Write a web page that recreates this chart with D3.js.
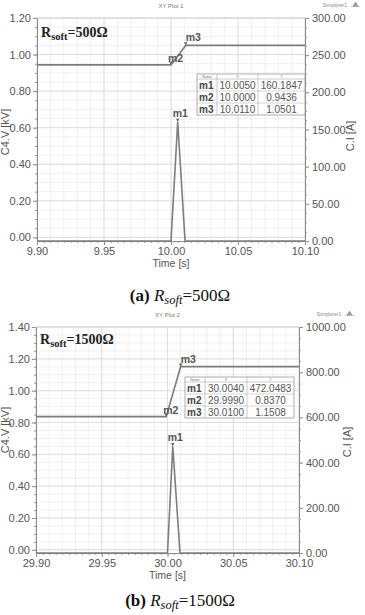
<!DOCTYPE html>
<html><head><meta charset="utf-8">
<script src="https://cdn.jsdelivr.net/npm/d3@7"></script>
<style>
html,body{margin:0;padding:0;background:#fff;}
svg{display:block;}
</style>
</head><body>
<svg id="c" width="365" height="615"></svg>
<script>
// ---------- data ----------
// Plot (a): R_soft = 500 Ω
const timeTicksA = [9.90, 9.95, 10.00, 10.05, 10.10];
const voltTicksA = [0.00, 0.20, 0.40, 0.60, 0.80, 1.00, 1.20];
const currTicksA = [0, 50, 100, 150, 200, 250, 300];
const voltTimeA = [9.90, 10.000, 10.011, 10.10];
const voltValA  = [0.9436, 0.9436, 1.0501, 1.0501];
const currTimeA = [9.90, 10.000, 10.005, 10.0105, 10.10];
const currValA  = [0, 0, 160.1847, 0, 0];
const markerNames = ["m1", "m2", "m3"];
const markerXA = ["10.0050", "10.0000", "10.0110"];
const markerYA = ["160.1847", "0.9436", "1.0501"];

// Plot (b): R_soft = 1500 Ω
const timeTicksB = [29.90, 29.95, 30.00, 30.05, 30.10];
const voltTicksB = [0.00, 0.20, 0.40, 0.60, 0.80, 1.00, 1.20, 1.40];
const currTicksB = [0, 200, 400, 600, 800, 1000];
const voltTimeB = [29.90, 29.999, 30.010, 30.10];
const voltValB  = [0.8370, 0.8370, 1.1508, 1.1508];
const currTimeB = [29.90, 30.000, 30.004, 30.0095, 30.10];
const currValB  = [0, 0, 472.0483, 0, 0];
const markerXB = ["30.0040", "29.9990", "30.0100"];
const markerYB = ["472.0483", "0.8370", "1.1508"];

// ---------- drawing ----------
const svg = d3.select("#c");
svg.append("rect").attr("width",365).attr("height",615).attr("fill","#fff");

function drawPlot(o){
  const g = svg.append("g");
  const x = d3.scaleLinear().domain([o.tTicks[0], o.tTicks[o.tTicks.length-1]]).range([o.left, o.right]);
  const yL = d3.scaleLinear().domain([-0.02, o.vTicks[o.vTicks.length-1]]).range([o.bottom, o.top]);
  const yR = d3.scaleLinear().domain([0, o.cTicks[o.cTicks.length-1]]).range([o.bottom, o.top]);

  // minor grid
  const xMinor = d3.range(0, 21).map(i => o.tTicks[0] + i*0.01);
  const yMinor = d3.range(0, Math.round(o.vTicks[o.vTicks.length-1]/0.05)+1).map(i => i*0.05);
  g.selectAll(".gx").data(xMinor).join("line")
    .attr("x1", d=>x(d)).attr("x2", d=>x(d)).attr("y1", o.top).attr("y2", o.bottom)
    .attr("stroke", "#ececec").attr("stroke-width", 0.8);
  g.selectAll(".gy").data(yMinor).join("line")
    .attr("y1", d=>yL(d)).attr("y2", d=>yL(d)).attr("x1", o.left).attr("x2", o.right)
    .attr("stroke", "#ececec").attr("stroke-width", 0.8);
  // major grid
  g.selectAll(".Gx").data(o.tTicks).join("line")
    .attr("x1", d=>x(d)).attr("x2", d=>x(d)).attr("y1", o.top).attr("y2", o.bottom)
    .attr("stroke", "#d9d9d9").attr("stroke-width", 0.8);
  g.selectAll(".Gy").data(o.vTicks).join("line")
    .attr("y1", d=>yL(d)).attr("y2", d=>yL(d)).attr("x1", o.left).attr("x2", o.right)
    .attr("stroke", "#d9d9d9").attr("stroke-width", 0.8);
  g.append("line").attr("x1",o.left).attr("x2",o.right).attr("y1",o.top).attr("y2",o.top)
    .attr("stroke","#cfcfcf").attr("stroke-width",0.8);

  // axes
  const font = "'Liberation Sans', Arial, sans-serif";
  const styleAxis = (sel) => {
    sel.select(".domain").attr("stroke", "#8a8a8a").attr("stroke-width", 1);
    sel.selectAll(".tick line").attr("stroke", "#8a8a8a");
    sel.selectAll(".tick text").attr("fill", "#555").style("font-family", font).style("font-size", "11px");
  };
  const ax = g.append("g").attr("transform", `translate(0,${o.bottom})`)
    .call(d3.axisBottom(x).tickValues(o.tTicks).tickFormat(d3.format(".2f")).tickSizeInner(4).tickSizeOuter(0).tickPadding(2));
  styleAxis(ax);
  const axm = g.append("g").attr("transform", `translate(0,${o.bottom})`)
    .call(d3.axisBottom(x).tickValues(d3.range(0,41).map(i=>o.tTicks[0]+i*0.005)).tickFormat("").tickSize(2).tickSizeOuter(0));
  axm.select(".domain").remove(); axm.selectAll("line").attr("stroke","#9a9a9a");

  const ayl = g.append("g").attr("transform", `translate(${o.left},0)`)
    .call(d3.axisLeft(yL).tickValues(o.vTicks).tickFormat(d3.format(".2f")).tickSizeInner(4).tickSizeOuter(0).tickPadding(2));
  styleAxis(ayl);
  const aylm = g.append("g").attr("transform", `translate(${o.left},0)`)
    .call(d3.axisLeft(yL).tickValues(yMinor).tickFormat("").tickSize(2).tickSizeOuter(0));
  aylm.select(".domain").remove(); aylm.selectAll("line").attr("stroke","#9a9a9a");

  const ayr = g.append("g").attr("transform", `translate(${o.right},0)`)
    .call(d3.axisRight(yR).tickValues(o.cTicks).tickFormat(d3.format(".2f")).tickSizeInner(4).tickSizeOuter(0).tickPadding(3));
  styleAxis(ayr);
  const cStep = (o.cTicks[1]-o.cTicks[0])/4;
  const ayrm = g.append("g").attr("transform", `translate(${o.right},0)`)
    .call(d3.axisRight(yR).tickValues(d3.range(0, o.cTicks[o.cTicks.length-1]+1, cStep)).tickFormat("").tickSize(2).tickSizeOuter(0));
  ayrm.select(".domain").remove(); ayrm.selectAll("line").attr("stroke","#9a9a9a");

  // axis titles
  g.append("text").attr("x", (o.left+o.right)/2).attr("y", o.bottom+26).attr("text-anchor","middle")
    .style("font-family", font).style("font-size","10.5px").attr("fill","#555").text("Time [s]");
  g.append("text").attr("transform", `translate(${o.ylabX},${o.ylabY}) rotate(-90)`).attr("text-anchor","middle")
    .style("font-family", font).style("font-size","11px").attr("fill","#555").text("C4.V [kV]");
  g.append("text").attr("transform", `translate(${o.yrlabX},${o.yrlabY}) rotate(-90)`).attr("text-anchor","middle")
    .style("font-family", font).style("font-size","11px").attr("fill","#555").text("C.I [A]");

  // titles
  g.append("text").attr("x", (o.left+o.right)/2).attr("y", o.top-10).attr("text-anchor","middle")
    .style("font-family", font).style("font-size","6px").attr("fill","#777").text(o.title);
  g.append("text").attr("x", o.right+42).attr("y", o.top-11).attr("text-anchor","end")
    .style("font-family", font).style("font-size","5px").attr("fill","#888").text("Simplorer1");
  g.append("path").attr("d", `M${o.right+48},${o.top-12} l2.5,-4 l2.5,4 z M${o.right+46},${o.top-11.5} h9`)
    .attr("fill","#999").attr("stroke","#999").attr("stroke-width",0.6);

  // curves
  const lineV = d3.line().x(d=>x(d[0])).y(d=>yL(d[1]));
  const lineC = d3.line().x(d=>x(d[0])).y(d=>yR(d[1]));
  g.append("path").datum(o.vT.map((t,i)=>[t,o.vV[i]])).attr("d", lineV)
    .attr("fill","none").attr("stroke","#7d7d7d").attr("stroke-width",1.6);
  g.append("path").datum(o.cT.map((t,i)=>[t,o.cV[i]])).attr("d", lineC)
    .attr("fill","none").attr("stroke","#7d7d7d").attr("stroke-width",1.6);

  // markers: m1 on current peak, m2 start of step, m3 end of step
  const mk = [
    {n:"m1", px:x(o.cT[2]), py:yR(o.cV[2]), dx:-5, dy:-5},
    {n:"m2", px:x(o.vT[1]), py:yL(o.vV[1]), dx:-3, dy:-3},
    {n:"m3", px:x(o.vT[2]), py:yL(o.vV[2]), dx:0, dy:-4}
  ];
  mk.forEach(m=>{
    g.append("path").attr("d", `M${m.px},${m.py} l-1.8,-3.2 h3.6 z`).attr("fill","#666");
    g.append("text").attr("x", m.px+m.dx).attr("y", m.py+m.dy)
      .style("font-family", font).style("font-size","10.5px").style("font-weight","bold").attr("fill","#555").text(m.n);
  });

  // marker table
  const tb = g.append("g");
  const tx = o.tab.x, ty = o.tab.y, cw = o.tab.cw, hh = 5, rh = 12;
  const tw = cw[0]+cw[1]+cw[2];
  tb.append("rect").attr("x",tx).attr("y",ty).attr("width",tw).attr("height",hh+3*rh)
    .attr("fill","#fff").attr("stroke","#999").attr("stroke-width",0.8);
  tb.append("line").attr("x1",tx).attr("x2",tx+tw).attr("y1",ty+hh).attr("y2",ty+hh).attr("stroke","#aaa").attr("stroke-width",0.6);
  [1,2].forEach(r=>tb.append("line").attr("x1",tx).attr("x2",tx+tw).attr("y1",ty+hh+r*rh).attr("y2",ty+hh+r*rh).attr("stroke","#bbb").attr("stroke-width",0.6));
  [cw[0], cw[0]+cw[1]].forEach(c=>tb.append("line").attr("x1",tx+c).attr("x2",tx+c).attr("y1",ty).attr("y2",ty+hh+3*rh).attr("stroke","#aaa").attr("stroke-width",0.6));
  const heads = ["Name","X","Y"];
  const colC = [tx+cw[0]/2, tx+cw[0]+cw[1]/2, tx+cw[0]+cw[1]+cw[2]/2];
  heads.forEach((h,i)=>tb.append("text").attr("x",colC[i]).attr("y",ty+4).attr("text-anchor","middle")
    .style("font-family",font).style("font-size","3.5px").attr("fill","#777").text(h));
  markerNames.forEach((n,r)=>{
    const yy = ty+hh+r*rh+9.5;
    tb.append("text").attr("x",tx+2).attr("y",yy).style("font-family",font).style("font-size","10px")
      .style("font-weight","bold").attr("fill","#444").text(n);
    tb.append("text").attr("x",colC[1]).attr("y",yy).attr("text-anchor","middle").style("font-family",font)
      .style("font-size","10px").attr("fill","#555").text(o.mX[r]);
    tb.append("text").attr("x",colC[2]).attr("y",yy).attr("text-anchor","middle").style("font-family",font)
      .style("font-size","10px").attr("fill","#555").text(o.mY[r]);
  });

  // R_soft label in plot
  const rl = g.append("text").attr("x", o.left+4).attr("y", o.rsY)
    .style("font-family","'Liberation Serif', 'Times New Roman', serif").style("font-weight","bold").attr("fill","#222");
  rl.append("tspan").style("font-size","14px").text("R");
  rl.append("tspan").style("font-size","10.5px").attr("dy",3).text("soft");
  rl.append("tspan").style("font-size","14px").attr("dy",-3).text("=" + o.rVal + "Ω");

  // caption
  const cap = svg.append("text").attr("x", 180).attr("y", o.capY).attr("text-anchor","middle")
    .style("font-family","'Liberation Serif', 'Times New Roman', serif").attr("fill","#111");
  cap.append("tspan").style("font-size","17px").style("font-weight","bold").text(o.capTag + " ");
  cap.append("tspan").style("font-size","17px").style("font-style","italic").text("R");
  cap.append("tspan").style("font-size","12.5px").style("font-style","italic").attr("dy",3).text("soft");
  cap.append("tspan").style("font-size","17px").attr("dy",-3).text("=" + o.rVal + "Ω");
}

drawPlot({
  title:"XY Plot 1", left:37, right:305, top:18, bottom:241,
  tTicks:timeTicksA, vTicks:voltTicksA, cTicks:currTicksA,
  vT:voltTimeA, vV:voltValA, cT:currTimeA, cV:currValA,
  mX:markerXA, mY:markerYA,
  tab:{x:197, y:74, cw:[20,41,47]},
  ylabX:9, ylabY:132, yrlabX:354, yrlabY:136,
  rsY:37, rVal:"500", capY:301, capTag:"(a)"
});
drawPlot({
  title:"XY Plot 2", left:36, right:299, top:327, bottom:553,
  tTicks:timeTicksB, vTicks:voltTicksB, cTicks:currTicksB,
  vT:voltTimeB, vV:voltValB, cT:currTimeB, cV:currValB,
  mX:markerXB, mY:markerYB,
  tab:{x:185, y:377, cw:[20,42,47]},
  ylabX:9, ylabY:430, yrlabX:351, yrlabY:442,
  rsY:344, rVal:"1500", capY:606, capTag:"(b)"
});
</script>
</body></html>
